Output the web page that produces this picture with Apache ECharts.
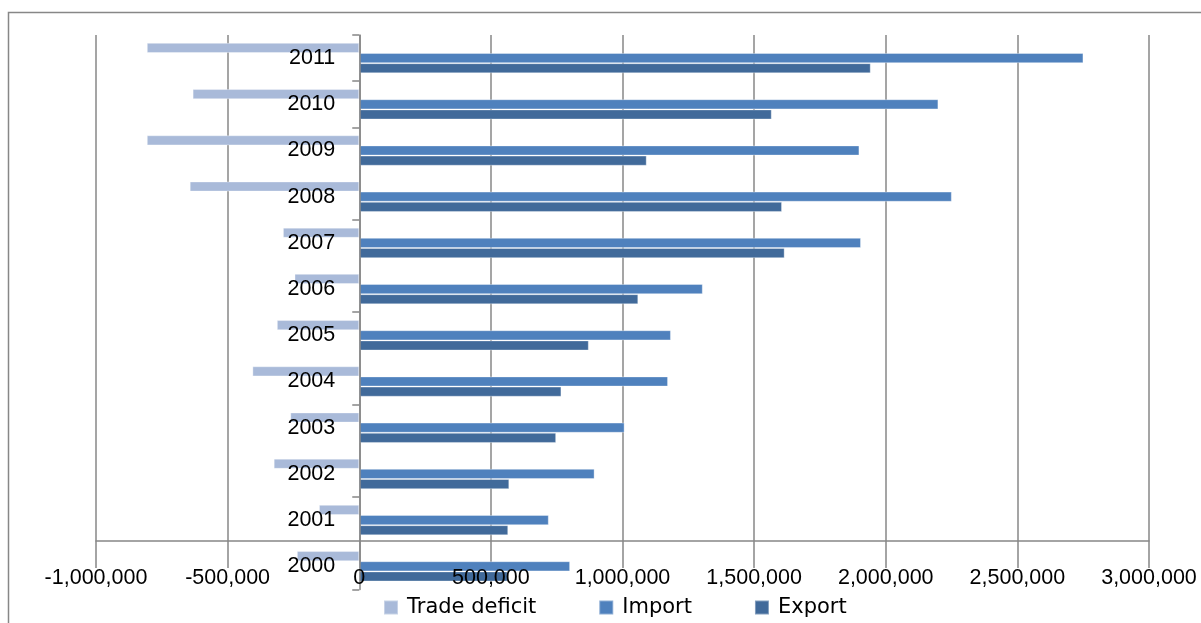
<!DOCTYPE html>
<html>
<head>
<meta charset="utf-8">
<script src="https://cdn.jsdelivr.net/npm/echarts@6/dist/echarts.min.js"></script>
<style>
  html, body { margin: 0; padding: 0; background: #ffffff; }
  #chart { width: 1201px; height: 623px; }
</style>
</head>
<body>
<div id="chart"></div>
<script>
// Yearly trade figures, 2000 to 2011
const years = ['2000', '2001', '2002', '2003', '2004', '2005', '2006', '2007', '2008', '2009', '2010', '2011'];
const tradeDeficit = [-237000, -153000, -325000, -262000, -406000, -313000, -246000, -290000, -644000, -807000, -633000, -807000];
const importValues = [801000, 720000, 894000, 1008000, 1173000, 1184000, 1305000, 1906000, 2251000, 1900000, 2200000, 2751000];
const exportValues = [564000, 566000, 570000, 748000, 768000, 872000, 1060000, 1616000, 1606000, 1092000, 1567000, 1943000];

// Value axis range and step
const valueMin = -1000000;
const valueMax = 3000000;
const valueStep = 500000;

const seriesNames = ['Trade deficit', 'Import', 'Export'];
const colors = ['#A9BAD9', '#4F81BD', '#416A9A'];

const gridLine = '#878787';
const numFont = "'Liberation Sans', sans-serif";
const numSize = 21.5;

const plotLeft = 96;
const plotRight = 1149;

function fmt(v) {
  return Number(v).toLocaleString('en-US');
}

const chart = echarts.init(document.getElementById('chart'), null, { renderer: 'canvas' });

// pixel distance from the plot's left edge to the zero line
const zeroShift = (0 - valueMin) / (valueMax - valueMin) * (plotRight - plotLeft);

const barSeries = [tradeDeficit, importValues, exportValues].map(function (vals, i) {
  return {
    name: seriesNames[i],
    type: 'bar',
    xAxisIndex: 1,
    yAxisIndex: 1,
    data: vals,
    barGap: '0%',
    barCategoryGap: '34%',
    itemStyle: {
      color: colors[i],
      borderColor: 'rgba(255,255,255,0.35)',
      borderWidth: 1
    },
    z: 2
  };
});

chart.setOption({
  backgroundColor: '#ffffff',
  animation: false,
  color: colors,
  graphic: [{
    type: 'rect',
    shape: { x: 8.5, y: 12.5, width: 1200, height: 620 },
    style: { fill: 'none', stroke: gridLine, lineWidth: 1.5 },
    z: 0
  }],
  legend: {
    data: seriesNames,
    left: 383,
    top: 597,
    padding: 0,
    itemGap: 62,
    itemWidth: 14,
    itemHeight: 14,
    icon: 'rect',
    textStyle: {
      fontFamily: 'DejaVu Sans',
      fontSize: 21,
      color: '#000000',
      padding: [0, 0, 0, 4]
    }
  },
  grid: [
    // frame for the value gridlines, ending at the horizontal axis line
    { left: plotLeft, right: 1201 - plotRight, top: 35, height: 506, containLabel: false, outerBoundsMode: 'none' },
    // bars area: twelve year bands
    { left: plotLeft, right: 1201 - plotRight, top: 35, height: 554.4, containLabel: false, outerBoundsMode: 'none' }
  ],
  xAxis: [
    {
      type: 'value',
      gridIndex: 0,
      min: valueMin,
      max: valueMax,
      interval: valueStep,
      z: 0,
      axisLine: { show: true, lineStyle: { color: gridLine, width: 1.5 } },
      axisTick: { show: true, inside: false, length: 27, lineStyle: { color: gridLine, width: 1.5 } },
      axisLabel: { show: false },
      splitLine: { show: true, lineStyle: { color: gridLine, width: 1.5 } }
    },
    {
      type: 'value',
      gridIndex: 1,
      min: valueMin,
      max: valueMax,
      interval: valueStep,
      offset: -48.4,
      z: 10,
      axisLine: { show: false },
      axisTick: { show: false },
      splitLine: { show: false },
      axisLabel: {
        show: true,
        margin: 26,
        color: '#000000',
        fontFamily: numFont,
        fontSize: numSize,
        formatter: fmt
      }
    }
  ],
  yAxis: [
    {
      type: 'category',
      gridIndex: 0,
      data: years,
      show: false
    },
    {
      type: 'category',
      gridIndex: 1,
      data: years,
      position: 'left',
      offset: -zeroShift,
      z: 10,
      axisLine: { show: true, onZero: false, lineStyle: { color: gridLine, width: 1.5 } },
      axisTick: { show: true, interval: 1, length: 7, lineStyle: { color: gridLine, width: 1.5 } },
      splitLine: { show: false },
      axisLabel: {
        show: true,
        interval: 0,
        margin: 24,
        color: '#000000',
        fontFamily: numFont,
        fontSize: numSize
      }
    }
  ],
  series: barSeries
});
</script>
</body>
</html>
